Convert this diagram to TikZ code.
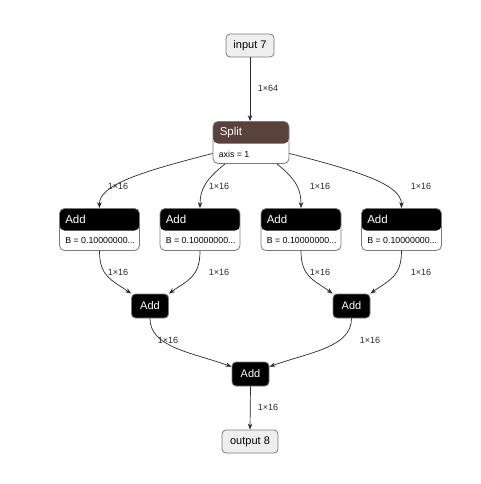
\documentclass[tikz,border=0pt]{standalone}
\usepackage{fontspec}
\setmainfont{Liberation Sans}
\usetikzlibrary{arrows.meta}
\definecolor{splitbrown}{HTML}{59423B}
\definecolor{bordergray}{HTML}{7A7A7A}
\definecolor{iofill}{HTML}{EEEEEE}
\definecolor{edgecol}{HTML}{2A2A2A}
\tikzset{
  iobox/.style={draw=bordergray, fill=iofill, rounded corners=4pt, line width=0.8pt,
    inner sep=0pt, minimum height=23pt, font=\fontsize{11}{13}\selectfont},
  bigbox/.style={draw=bordergray, fill=white, rounded corners=5pt, line width=0.8pt,
    inner sep=0pt, minimum width=80pt, minimum height=42pt,
    path picture={\fill[#1] (path picture bounding box.north west) rectangle
      ([yshift=-22pt]path picture bounding box.north east);}},
  smallbox/.style={draw=bordergray, fill=black, rounded corners=4pt, line width=0.8pt,
    inner sep=0pt, minimum width=37pt, minimum height=24pt, text=white,
    font=\fontsize{11}{13}\selectfont},
  hdr/.style={text=white, inner sep=0pt, anchor=west, font=\fontsize{11.5}{13}\selectfont},
  bodytxt/.style={text=black, inner sep=0pt, anchor=west, font=\fontsize{8.8}{10}\selectfont},
  elabel/.style={text=edgecol, inner sep=0pt, font=\fontsize{9}{10}\selectfont},
  edge/.style={draw=edgecol, line width=0.7pt, -{Stealth[length=6pt,width=4.5pt]}}
}
\begin{document}
\begin{tikzpicture}[x=1pt,y=-1pt]
\useasboundingbox (0,0) rectangle (481,484);
% input / output
\node[iobox, minimum width=48pt] (in) at (250,45.5) {input 7};
\node[iobox, minimum width=56pt] (out) at (250,441.5) {output 8};
% Split
\node[bigbox=splitbrown, minimum width=76pt] (split) at (251,142.5) {};
\node[hdr] (splitT) at ([xshift=7pt,yshift=-11.5pt]split.north west) {Split};
\node[bodytxt] (splitB) at ([xshift=6pt,yshift=10pt]split.south west) {axis = 1};
% Add boxes with B
\foreach \n/\x in {a1/99.5,a2/200,a3/301,a4/401.5}{
  \node[bigbox=black] (\n) at (\x,229.5) {};
  \node[hdr] (\n T) at ([xshift=6pt,yshift=-11pt]\n.north west) {Add};
  \node[bodytxt] (\n B) at ([xshift=6pt,yshift=10pt]\n.south west) {B = 0.10000000...};
}
% small Add nodes
\node[smallbox] (s1) at (150,306) {Add};
\node[smallbox] (s2) at (351.5,306) {Add};
\node[smallbox] (s3) at (250.5,374) {Add};
% edges
\draw[edge] (in) -- (split.north -| in.south);
\node[elabel] (l0) at (268,88) {1×64};

\draw[edge] ([yshift=-11pt]split.west) .. controls (140,172) and (99,185) .. (a1.north);
\draw[edge] ([xshift=-26pt]split.south) .. controls (205,180) and (200,190) .. (a2.north);
\draw[edge] ([xshift=26pt]split.south) .. controls (297,180) and (301,190) .. (a3.north);
\draw[edge] ([yshift=-11pt]split.east) .. controls (362,172) and (401.5,185) .. (a4.north);
\node[elabel] (l1) at (118,186) {1×16};
\node[elabel] (l2) at (219,186) {1×16};
\node[elabel] (l3) at (320,186) {1×16};
\node[elabel] (l4) at (421,186) {1×16};

\draw[edge] (a1.south) .. controls (99.5,277) and (112,280) .. (s1.north west);
\draw[edge] (a2.south) .. controls (200,277) and (188,280) .. (s1.north east);
\draw[edge] (a3.south) .. controls (301,277) and (314,280) .. (s2.north west);
\draw[edge] (a4.south) .. controls (401.5,277) and (389,280) .. (s2.north east);
\node[elabel] (l5) at (118,272) {1×16};
\node[elabel] (l6) at (219,272) {1×16};
\node[elabel] (l7) at (320,272) {1×16};
\node[elabel] (l8) at (421,272) {1×16};

\draw[edge] (s1.south) .. controls (150,347) and (190,352) .. ([yshift=-5pt]s3.north west);
\draw[edge] (s2.south) .. controls (351.5,347) and (311,352) .. ([yshift=-5pt]s3.north east);
\node[elabel] (l9) at (168,340) {1×16};
\node[elabel] (l10) at (370,340) {1×16};

\draw[edge] (s3.south) -- (out.north);
\node[elabel] (l11) at (268,407) {1×16};
\end{tikzpicture}
\end{document}
